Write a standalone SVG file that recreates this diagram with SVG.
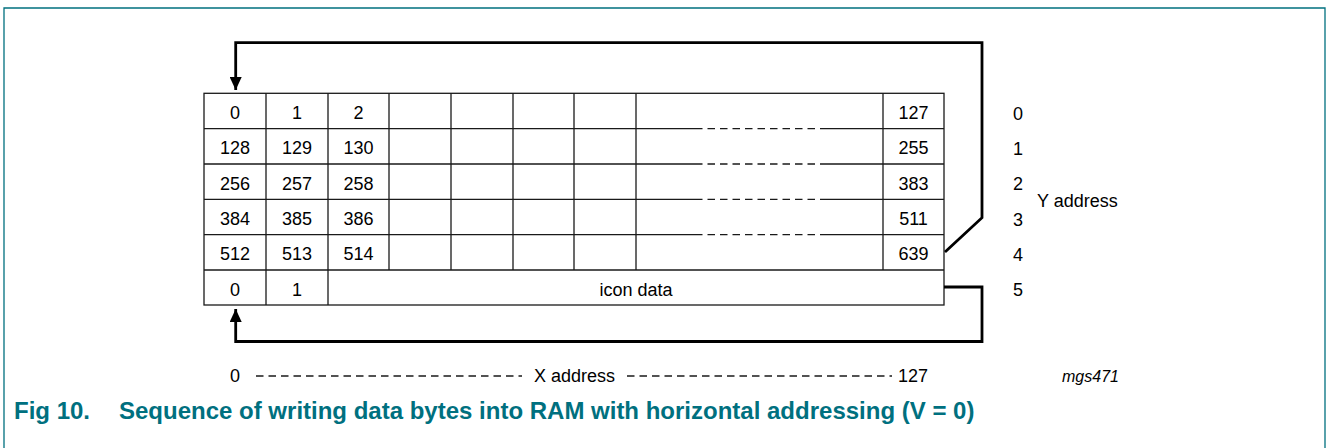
<svg xmlns="http://www.w3.org/2000/svg" width="1327" height="448" viewBox="0 0 1327 448">
<style>
.g{stroke:#1a1a1a;stroke-width:1.3;fill:none}
.d{stroke:#1a1a1a;stroke-width:1.3;fill:none;stroke-dasharray:7.5 5}
.c{stroke:#000;stroke-width:2.8;fill:none}
.t{font-family:"Liberation Sans",Arial,sans-serif;font-size:18px;fill:#000}
.m{text-anchor:middle}
.cap{font-family:"Liberation Sans",Arial,sans-serif;font-size:24px;font-weight:bold;fill:#00707f}
</style>
<defs>
<marker id="ah" viewBox="0 0 13 12" refX="13" refY="6" markerWidth="13" markerHeight="12" markerUnits="userSpaceOnUse" orient="auto">
<path d="M0,0 L13,6 L0,12 z" fill="#000"/>
</marker>
</defs>
<rect x="0" y="0" width="1327" height="448" fill="#fff"/>
<path d="M4,460 V8 H1325 V460" fill="none" stroke="#00707f" stroke-width="1.3"/>

<g id="ram-table">
<rect x="204" y="93.3" width="740" height="211.7" class="g"/>
<path class="g" d="M266,93.3V305 M328,93.3V305 M389,93.3V270 M451,93.3V270 M513,93.3V270 M574,93.3V270 M636,93.3V270 M883,93.3V270 M204,270H944"/>
<path class="g" d="M204,128.7H695 M823,128.7H944 M204,164H695 M823,164H944 M204,199.3H695 M823,199.3H944 M204,234.7H695 M823,234.7H944"/>
<path class="d" d="M695,128.7H823 M695,164H823 M695,199.3H823 M695,234.7H823"/>
<g class="t m">
<text x="235" y="119">0</text><text x="297" y="119">1</text><text x="358.5" y="119">2</text><text x="913.5" y="119">127</text>
<text x="235" y="154.3">128</text><text x="297" y="154.3">129</text><text x="358.5" y="154.3">130</text><text x="913.5" y="154.3">255</text>
<text x="235" y="189.7">256</text><text x="297" y="189.7">257</text><text x="358.5" y="189.7">258</text><text x="913.5" y="189.7">383</text>
<text x="235" y="225">384</text><text x="297" y="225">385</text><text x="358.5" y="225">386</text><text x="913.5" y="225">511</text>
<text x="235" y="260.3">512</text><text x="297" y="260.3">513</text><text x="358.5" y="260.3">514</text><text x="913.5" y="260.3">639</text>
<text x="235" y="295.7">0</text><text x="297" y="295.7">1</text><text x="636" y="295.7">icon data</text>
</g>
</g>

<g id="connectors">
<path class="c" d="M945,252 L982,217.7 V42.7 H235.7 V90" marker-end="url(#ah)"/>
<path class="c" d="M944,287 H982 V341.5 H235.7 V309" marker-end="url(#ah)"/>
</g>

<g id="y-address" class="t">
<text x="1013" y="119.5">0</text>
<text x="1013" y="154.8">1</text>
<text x="1013" y="190.2">2</text>
<text x="1013" y="225.5">3</text>
<text x="1013" y="260.8">4</text>
<text x="1013" y="296.2">5</text>
<text x="1037" y="207">Y address</text>
</g>

<g id="x-address">
<text class="t m" x="235" y="382">0</text>
<path class="d" d="M256,376H522 M627,376H892"/>
<text class="t m" x="574.5" y="382">X address</text>
<text class="t" x="898" y="382">127</text>
<text x="1062" y="382" style="font-family:'Liberation Sans',Arial,sans-serif;font-size:16px;font-style:italic">mgs471</text>
</g>

<g id="caption">
<text class="cap" x="14" y="419">Fig 10.</text>
<text class="cap" x="119" y="419">Sequence of writing data bytes into RAM with horizontal addressing (V = 0)</text>
</g>
</svg>
